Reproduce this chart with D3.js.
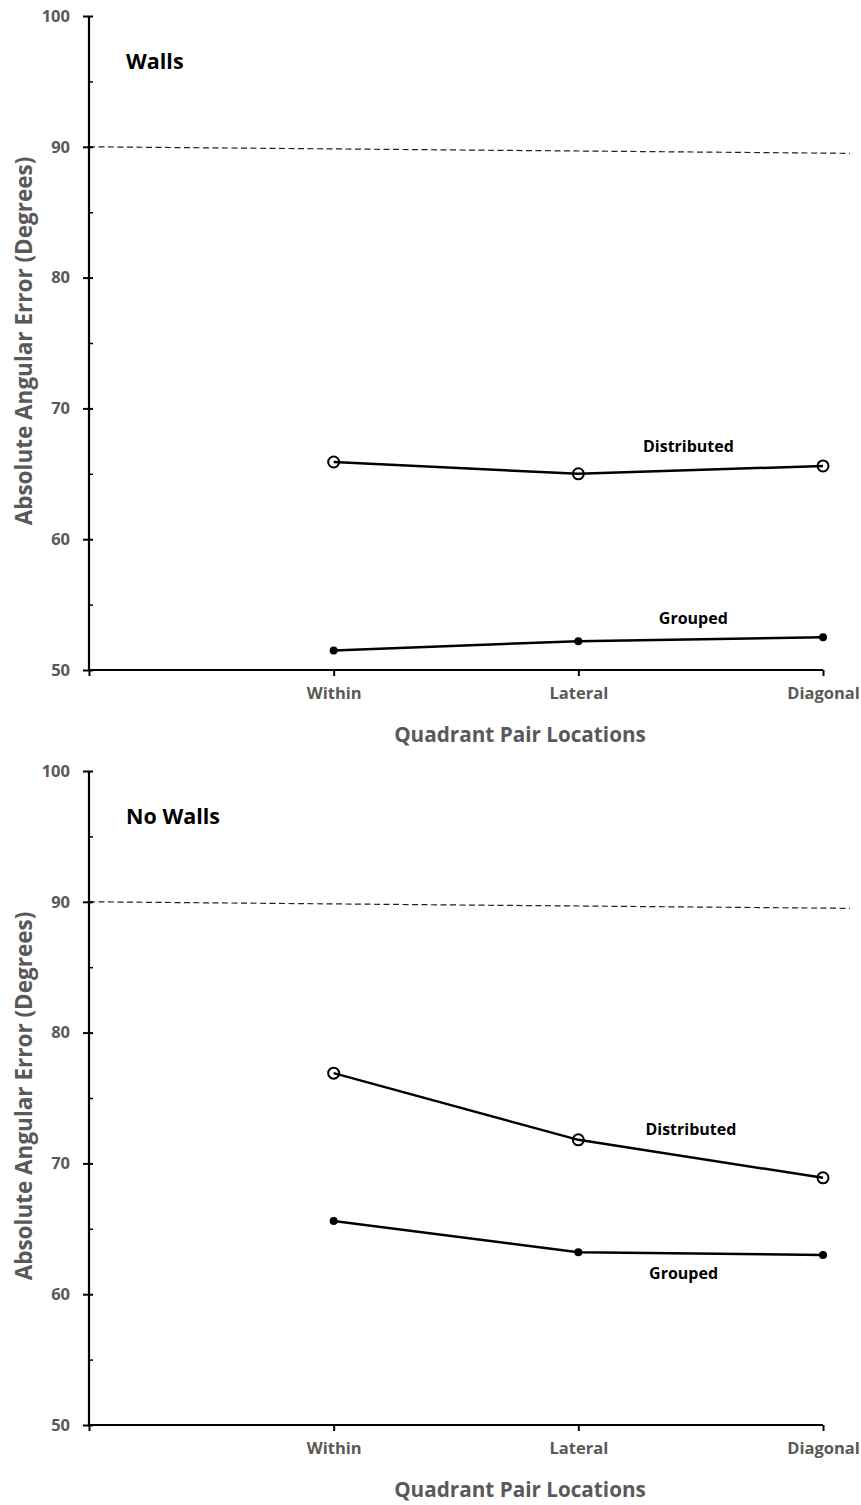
<!DOCTYPE html>
<html>
<head>
<meta charset="utf-8">
<script src="https://cdn.jsdelivr.net/npm/d3@7"></script>
<style>
  body { margin: 0; background: #fff; }
  text { font-family: "Open Sans", "Noto Sans", sans-serif; font-weight: bold; }
</style>
</head>
<body>
<svg width="861" height="1505"></svg>
<script>
// data
var categories = ["Within", "Lateral", "Diagonal"];
var wallsDistributed = [65.9, 65.0, 65.6];
var wallsGrouped = [51.5, 52.2, 52.5];
var noWallsDistributed = [76.9, 71.8, 68.9];
var noWallsGrouped = [65.6, 63.2, 63.0];
var chanceX = [0, 3.11];
var chanceY = [90.0, 89.5];
var yMajor = [50, 60, 70, 80, 90, 100];
var yMinor = [55, 65, 75, 85, 95];

var svg = d3.select("svg");
var left = 89, right = 823, plotH = 654;

var x = d3.scaleLinear().domain([0, 3]).range([left, right]);

function panel(top, title, distributed, grouped, labels) {
  var y = d3.scaleLinear().domain([50, 100]).range([top + plotH, top]);
  var g = svg.append("g");

  // dashed chance line
  g.append("path")
    .datum(d3.zip(chanceX, chanceY))
    .attr("fill", "none")
    .attr("stroke", "#222")
    .attr("stroke-width", 1.2)
    .attr("stroke-dasharray", "6,3.5")
    .attr("d", d3.line().x(function(d) { return x(d[0]); }).y(function(d) { return y(d[1]); }));

  // y axis, major ticks cross the line, minor ticks inside
  var ya = g.append("g")
    .attr("transform", "translate(" + left + ",0)")
    .call(d3.axisLeft(y).tickValues(yMajor).tickSize(6).tickPadding(13));
  ya.select(".domain").attr("stroke-width", 2.2).attr("d", "M0," + y(100) + "V" + y(50));
  ya.selectAll(".tick line").attr("x1", 4).attr("stroke-width", 2);
  ya.selectAll(".tick text").attr("fill", "#595959").style("font-size", "16.5px");

  var ym = g.append("g")
    .attr("transform", "translate(" + left + ",0)")
    .call(d3.axisRight(y).tickValues(yMinor).tickSize(4).tickFormat(""));
  ym.select(".domain").remove();
  ym.selectAll(".tick line").attr("stroke-width", 1.5);

  // x axis
  var xa = g.append("g")
    .attr("transform", "translate(0," + (top + plotH) + ")")
    .call(d3.axisBottom(x).tickValues([0, 1, 2, 3])
      .tickFormat(function(d) { return d === 0 ? "" : categories[d - 1]; })
      .tickSize(6).tickPadding(11));
  xa.select(".domain").attr("stroke-width", 2.2).attr("d", "M" + left + ",0H" + right);
  xa.selectAll(".tick line").attr("stroke-width", 2);
  xa.selectAll(".tick text").attr("fill", "#595959").style("font-size", "16.5px");

  // axis titles
  g.append("text")
    .attr("transform", "translate(32," + (top + plotH / 2 - 2) + ") rotate(-90)")
    .attr("text-anchor", "middle")
    .attr("fill", "#595959")
    .style("font-size", "22.5px")
    .text("Absolute Angular Error (Degrees)");

  g.append("text")
    .attr("x", 520)
    .attr("y", top + plotH + 72)
    .attr("text-anchor", "middle")
    .attr("fill", "#595959")
    .style("font-size", "20.7px")
    .text("Quadrant Pair Locations");

  g.append("text")
    .attr("x", 126)
    .attr("y", top + 53)
    .attr("fill", "#000")
    .style("font-size", "21.5px")
    .text(title);

  var line = d3.line()
    .x(function(d, i) { return x(i + 1); })
    .y(function(d) { return y(d); });

  [distributed, grouped].forEach(function(s) {
    g.append("path")
      .datum(s)
      .attr("fill", "none")
      .attr("stroke", "#000")
      .attr("stroke-width", 2.5)
      .attr("d", line);
  });

  g.selectAll(".dist")
    .data(distributed)
    .enter().append("circle")
    .attr("cx", function(d, i) { return x(i + 1); })
    .attr("cy", function(d) { return y(d); })
    .attr("r", 5.5)
    .attr("fill", "none")
    .attr("stroke", "#000")
    .attr("stroke-width", 2);

  g.selectAll(".grp")
    .data(grouped)
    .enter().append("circle")
    .attr("cx", function(d, i) { return x(i + 1); })
    .attr("cy", function(d) { return y(d); })
    .attr("r", 4)
    .attr("fill", "#000");

  labels.forEach(function(l) {
    g.append("text")
      .attr("x", x(l[1]))
      .attr("y", y(l[2]))
      .attr("text-anchor", "middle")
      .attr("fill", "#000")
      .style("font-size", "16px")
      .text(l[0]);
  });
}

panel(16, "Walls", wallsDistributed, wallsGrouped,
  [["Distributed", 2.45, 66.7], ["Grouped", 2.47, 53.5]]);
panel(771, "No Walls", noWallsDistributed, noWallsGrouped,
  [["Distributed", 2.46, 72.2], ["Grouped", 2.43, 61.2]]);
</script>
</body>
</html>
